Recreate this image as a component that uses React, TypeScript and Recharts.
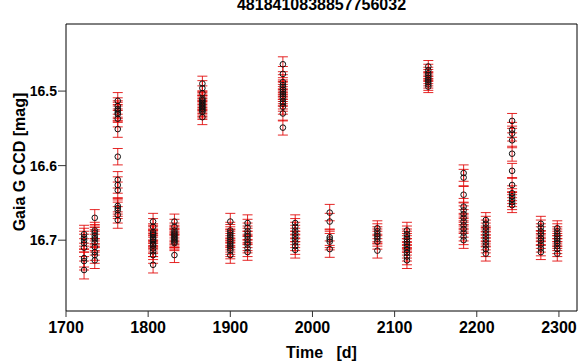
import { ScatterChart, Scatter, XAxis, YAxis, ErrorBar, ReferenceArea } from 'recharts';

const title = '4818410838857756032';

// observation epochs (days) and the per-CCD magnitudes measured at each
const epochs = [1722, 1735, 1763, 1806, 1832, 1866, 1900, 1921, 1964, 1979, 2021, 2079, 2115, 2141, 2184, 2211, 2243, 2278, 2298];

const mags: number[][] = [
    [16.692, 16.696, 16.700, 16.704, 16.710, 16.724, 16.728, 16.740],
    [16.670, 16.687, 16.690, 16.694, 16.697, 16.699, 16.703, 16.709, 16.716, 16.720, 16.727],
    [16.513, 16.520, 16.524, 16.526, 16.529, 16.531, 16.537, 16.551, 16.588, 16.619, 16.626, 16.633, 16.654, 16.657, 16.660, 16.666, 16.673],
    [16.675, 16.682, 16.689, 16.691, 16.693, 16.696, 16.698, 16.700, 16.702, 16.705, 16.707, 16.711, 16.715, 16.720, 16.733],
    [16.675, 16.682, 16.687, 16.690, 16.692, 16.694, 16.696, 16.698, 16.700, 16.702, 16.704, 16.720],
    [16.490, 16.496, 16.503, 16.510, 16.512, 16.514, 16.516, 16.518, 16.520, 16.522, 16.524, 16.526, 16.528, 16.535],
    [16.675, 16.687, 16.690, 16.693, 16.696, 16.699, 16.702, 16.705, 16.708, 16.711, 16.714, 16.720],
    [16.677, 16.683, 16.688, 16.692, 16.695, 16.699, 16.703, 16.706, 16.711, 16.716],
    [16.464, 16.477, 16.488, 16.492, 16.495, 16.498, 16.501, 16.504, 16.507, 16.510, 16.514, 16.517, 16.521, 16.530, 16.549],
    [16.677, 16.682, 16.687, 16.691, 16.695, 16.699, 16.703, 16.708, 16.713],
    [16.663, 16.675, 16.696, 16.699, 16.702, 16.712],
    [16.684, 16.688, 16.692, 16.695, 16.698, 16.702, 16.714],
    [16.687, 16.692, 16.696, 16.699, 16.702, 16.705, 16.709, 16.713, 16.717, 16.722, 16.727],
    [16.467, 16.472, 16.476, 16.479, 16.482, 16.485, 16.488, 16.491, 16.494],
    [16.610, 16.616, 16.639, 16.655, 16.660, 16.665, 16.670, 16.675, 16.680, 16.685, 16.690, 16.695, 16.700],
    [16.673, 16.678, 16.683, 16.687, 16.691, 16.695, 16.699, 16.703, 16.707, 16.712, 16.718],
    [16.540, 16.552, 16.557, 16.566, 16.584, 16.607, 16.626, 16.637, 16.641, 16.645, 16.649, 16.653],
    [16.678, 16.683, 16.688, 16.692, 16.697, 16.701, 16.706, 16.711, 16.716],
    [16.684, 16.688, 16.692, 16.695, 16.698, 16.701, 16.704, 16.708, 16.712, 16.718],
];

const errs = [0.012, 0.011, 0.011, 0.011, 0.010, 0.010, 0.011, 0.011, 0.010, 0.011, 0.011, 0.010, 0.011, 0.008, 0.011, 0.010, 0.010, 0.010, 0.010];

const xTicks = [1700, 1800, 1900, 2000, 2100, 2200, 2300];
const yTicks = [16.5, 16.6, 16.7];

const points = epochs.flatMap((t, i) => mags[i].map((m) => ({ t, m, e: errs[i] })));

const font = '"Liberation Sans", Arial, Helvetica, sans-serif';

const OpenCircle = (props: any) => (
    <circle cx={props.cx} cy={props.cy} r={2.8} fill="none" stroke="#111" strokeWidth={1} />
);

export default function App() {
    return (
        <div style={{ position: 'absolute', left: 0, top: 0, width: 586, height: 364, background: '#fff', fontFamily: font }}>
            <ScatterChart width={586} height={364} margin={{ top: 24, right: 9, bottom: 0, left: 0 }}>
                <XAxis
                    dataKey="t"
                    type="number"
                    domain={[1700, 2322]}
                    ticks={xTicks}
                    allowDataOverflow
                    height={53}
                    tickSize={6}
                    tickMargin={5}
                    axisLine={false}
                    stroke="#333"
                    tick={{ fill: '#000', fontSize: 16, fontWeight: 'bold', fontFamily: font }}
                />
                <YAxis
                    dataKey="m"
                    type="number"
                    domain={[16.41, 16.795]}
                    reversed
                    ticks={yTicks}
                    allowDataOverflow
                    width={66}
                    tickSize={8}
                    tickMargin={1}
                    axisLine={false}
                    stroke="#333"
                    tickFormatter={(v) => v.toFixed(1)}
                    tick={{ fill: '#000', fontSize: 14, fontWeight: 'bold', fontFamily: font }}
                />
                <Scatter data={points} shape={OpenCircle} isAnimationActive={false}>
                    <ErrorBar dataKey="e" direction="y" width={5} stroke="rgba(225,0,0,0.85)" strokeWidth={1} />
                </Scatter>
                <ReferenceArea x1={1700} x2={2322} y1={16.41} y2={16.795} fill="none" stroke="#000" strokeWidth={1} ifOverflow="visible" />
            </ScatterChart>
            <div style={{ position: 'absolute', left: 66, width: 511, top: -4, textAlign: 'center', fontSize: 16, fontWeight: 'bold', lineHeight: '18px' }}>
                {title}
            </div>
            <div style={{ position: 'absolute', left: 66, width: 511, top: 344, textAlign: 'center', fontSize: 16, fontWeight: 'bold', lineHeight: '18px', whiteSpace: 'pre' }}>
                {'Time   [d]'}
            </div>
            <div style={{ position: 'absolute', left: 20, top: 162, transform: 'translate(-50%, -50%) rotate(-90deg)', fontSize: 16, fontWeight: 'bold', whiteSpace: 'nowrap', lineHeight: '18px' }}>
                Gaia G CCD [mag]
            </div>
        </div>
    );
}
